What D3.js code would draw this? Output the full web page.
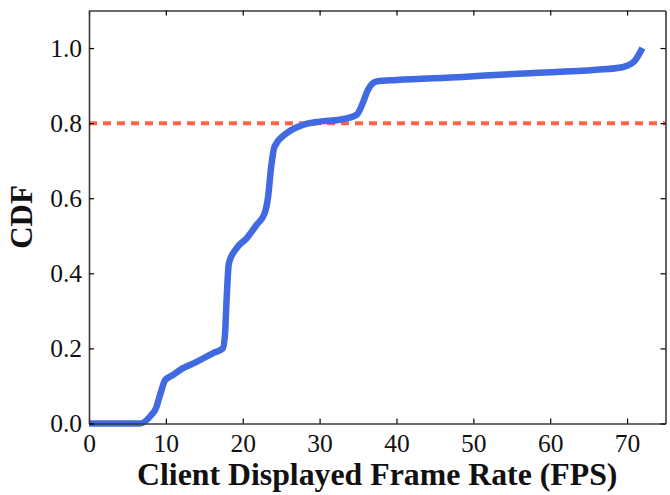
<!DOCTYPE html>
<html>
<head>
<meta charset="utf-8">
<script src="https://cdn.jsdelivr.net/npm/d3@7"></script>
<style>
  html, body { margin: 0; padding: 0; background: #fff; }
  svg { display: block; }
</style>
</head>
<body>
<svg id="chart" width="670" height="495"></svg>
<script>
// Empirical CDF of client displayed frame rate
const fps = [0, 6.7, 8.0, 8.7, 9.3, 9.9, 11.0, 11.8, 14.0, 16.1, 17.4, 17.7, 17.9, 18.2, 19.2, 20.5, 21.8, 22.85, 23.3, 23.7, 24.15, 25.7, 27.8, 30.0, 32.6, 34.8, 35.6, 36.3, 37.4, 40.0, 48.6, 53.4, 57.3, 66.0, 69.4, 69.9, 71.0, 72.0];
const cdf = [0, 0, 0.02, 0.04, 0.08, 0.115, 0.13, 0.142, 0.164, 0.187, 0.2, 0.24, 0.33, 0.427, 0.467, 0.493, 0.529, 0.56, 0.604, 0.684, 0.738, 0.773, 0.795, 0.804, 0.809, 0.822, 0.853, 0.889, 0.911, 0.915, 0.923, 0.929, 0.933, 0.942, 0.949, 0.952, 0.966, 1.0];

const threshold = 0.8;
const xTicks = [0, 10, 20, 30, 40, 50, 60, 70];
const yTicks = [0.0, 0.2, 0.4, 0.6, 0.8, 1.0];
const xDomain = [0, 75];
const yDomain = [0, 1.1];
const xLabel = "Client Displayed Frame Rate (FPS)";
const yLabel = "CDF";

const margin = { left: 89, top: 10.5, right: 670 - 665.5, bottom: 495 - 423.5 };
const W = 670, H = 495;
const svg = d3.select("#chart");
const x = d3.scaleLinear().domain(xDomain).range([margin.left, W - margin.right]);
const y = d3.scaleLinear().domain(yDomain).range([H - margin.bottom, margin.top]);

const serif = "'Liberation Serif', 'Times New Roman', serif";
const axisColor = "#3a3a3a";

// threshold line
svg.append("line")
  .attr("x1", x(xDomain[0])).attr("x2", x(xDomain[1]))
  .attr("y1", y(threshold)).attr("y2", y(threshold))
  .attr("stroke", "#FF6347").attr("stroke-width", 4)
  .attr("stroke-dasharray", "8,6");

// CDF curve
const pts = fps.map((v, i) => [v, cdf[i]]);
svg.append("path")
  .datum(pts)
  .attr("fill", "none")
  .attr("stroke", "#4169E1")
  .attr("stroke-width", 6.5)
  .attr("stroke-linejoin", "round")
  .attr("d", d3.line().x(d => x(d[0])).y(d => y(d[1])).curve(d3.curveMonotoneX));

// axes with inward ticks on all sides
function styleAxis(g) {
  g.select(".domain").attr("stroke", axisColor).attr("stroke-width", 1.6);
  g.selectAll(".tick line").attr("stroke", "#000").attr("stroke-width", 1.2);
  g.selectAll(".tick text")
    .attr("font-family", serif).attr("font-size", 25.5).attr("fill", "#111");
}

svg.append("g")
  .attr("transform", `translate(0,${y(0)})`)
  .call(d3.axisBottom(x).tickValues(xTicks).tickFormat(d3.format("d"))
    .tickSizeInner(-5).tickSizeOuter(0).tickPadding(10))
  .call(styleAxis);

svg.append("g")
  .attr("transform", `translate(0,${y(yDomain[1])})`)
  .call(d3.axisTop(x).tickValues(xTicks).tickFormat("")
    .tickSizeInner(-5).tickSizeOuter(0))
  .call(styleAxis);

svg.append("g")
  .attr("transform", `translate(${x(0)},0)`)
  .call(d3.axisLeft(y).tickValues(yTicks).tickFormat(d3.format(".1f"))
    .tickSizeInner(-5).tickSizeOuter(0).tickPadding(7))
  .call(styleAxis);

svg.append("g")
  .attr("transform", `translate(${x(xDomain[1])},0)`)
  .call(d3.axisRight(y).tickValues(yTicks).tickFormat("")
    .tickSizeInner(-5).tickSizeOuter(0))
  .call(styleAxis);

// axis titles
svg.append("text")
  .attr("x", (x(xDomain[0]) + x(xDomain[1])) / 2)
  .attr("y", 485)
  .attr("text-anchor", "middle")
  .attr("font-family", serif).attr("font-weight", "bold").attr("font-size", 31.8)
  .attr("fill", "#111")
  .text(xLabel);

svg.append("text")
  .attr("transform", `translate(32,${(y(0) + y(yDomain[1])) / 2}) rotate(-90)`)
  .attr("text-anchor", "middle")
  .attr("font-family", serif).attr("font-weight", "bold").attr("font-size", 31)
  .attr("fill", "#111")
  .text(yLabel);
</script>
</body>
</html>
